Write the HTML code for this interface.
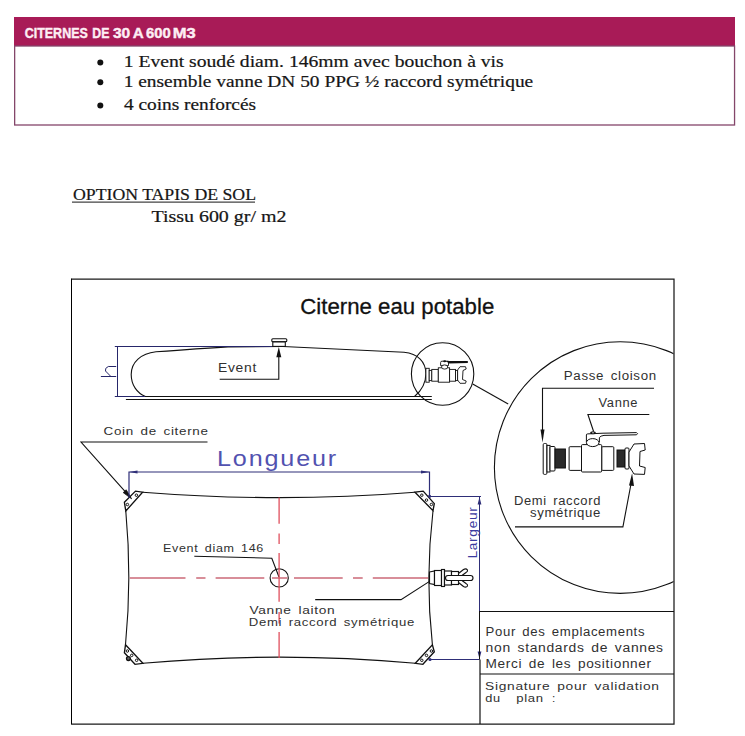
<!DOCTYPE html>
<html><head><meta charset="utf-8">
<style>
html,body{margin:0;padding:0;background:#fff;width:745px;height:736px;overflow:hidden}
svg{position:absolute;left:0;top:0;display:block}
.cad{font-family:"Liberation Sans",sans-serif;fill:#303030;letter-spacing:0.6px;word-spacing:2px}
.ser{font-family:"Liberation Serif",serif;fill:#161616;stroke:#161616;stroke-width:0.2px}
</style></head><body>
<svg width="745" height="736" viewBox="0 0 745 736">
<!-- header box -->
<rect x="14" y="17" width="721" height="29" fill="#a81b57"/>
<rect x="14.65" y="46" width="719.9" height="79" fill="none" stroke="#84466a" stroke-width="1.3"/>
<text y="38" font-family="Liberation Sans" font-weight="bold" font-size="14.4" fill="#fdeef4" stroke="#fdeef4" stroke-width="0.4"><tspan x="24.7" textLength="63.1" lengthAdjust="spacingAndGlyphs">CITERNES</tspan><tspan x="92.3" textLength="17.1" lengthAdjust="spacingAndGlyphs">DE</tspan><tspan x="112.9" textLength="17.3" lengthAdjust="spacingAndGlyphs">30</tspan><tspan x="132.7" textLength="11.0" lengthAdjust="spacingAndGlyphs">A</tspan><tspan x="145.9" textLength="24.8" lengthAdjust="spacingAndGlyphs">600</tspan><tspan x="172.8" textLength="23.0" lengthAdjust="spacingAndGlyphs">M3</tspan></text>
<!-- bullets -->
<circle cx="100.3" cy="62.4" r="3" fill="#111"/>
<circle cx="100.3" cy="82.2" r="3" fill="#111"/>
<circle cx="100.3" cy="105.5" r="3" fill="#111"/>
<text class="ser" x="123.7" y="66.8" font-size="16" textLength="380.0" lengthAdjust="spacingAndGlyphs">1 Event soudé diam. 146mm avec bouchon à vis</text>
<text class="ser" x="123.7" y="86.6" font-size="16" textLength="409.5" lengthAdjust="spacingAndGlyphs">1 ensemble vanne DN 50 PPG ½ raccord symétrique</text>
<text class="ser" x="124.0" y="109.5" font-size="16" textLength="132.0" lengthAdjust="spacingAndGlyphs">4 coins renforcés</text>
<!-- option -->
<text class="ser" x="73.0" y="199.9" font-size="16" textLength="183.0" lengthAdjust="spacingAndGlyphs">OPTION TAPIS DE SOL</text>
<rect x="72" y="201.6" width="183" height="1" fill="#161616"/>
<text class="ser" x="151.4" y="221.6" font-size="16" textLength="135.1" lengthAdjust="spacingAndGlyphs">Tissu 600 gr/ m2</text>

<!-- drawing frame -->
<path d="M71.5,279 H674 V724 H71.5" fill="none" stroke="#1a1a1a" stroke-width="1.25"/><line x1="71.5" y1="278.5" x2="71.5" y2="724.5" stroke="#000" stroke-width="1"/>
<text x="300.3" y="313.9" font-family="Liberation Sans" font-size="22.5" fill="#111" stroke="#111" stroke-width="0.3" textLength="194.0" lengthAdjust="spacingAndGlyphs">Citerne eau potable</text>

<!-- side view -->
<g fill="none" stroke="#111" stroke-width="1.1">
  <path d="M283,346.5 L404,352.2 C418,353.5 425.9,362 425.9,373.7 C425.9,384 421,391 414.5,396.5"/>
  <path d="M283,346.5 L228,346.9 Q200,348.6 156,351.8 C141,353.5 131.2,362 131.2,374.5 C131.2,385 137,393 145.4,396.5"/>
  <line x1="145" y1="396.5" x2="431.8" y2="396.5"/>
  <line x1="125.9" y1="399.5" x2="431.8" y2="399.5"/>
  <circle cx="442.6" cy="374" r="31.2"/>
  <line x1="472.7" y1="383.9" x2="508.2" y2="404.1"/>
  <!-- event cap -->
  <rect x="271.8" y="338.8" width="15" height="3" rx="1"/>
  <rect x="272.8" y="341.8" width="12.5" height="4.6"/>
  <polyline points="219.7,379.3 278.8,379.3 278.8,352"/>
</g>
<path d="M278.8,347 L276.3,357.2 L281.3,357.2 Z" fill="#111"/>
<text class="cad" x="218.0" y="372.3" font-size="12" textLength="39.0" lengthAdjust="spacingAndGlyphs">Event</text>
<!-- blue h dim -->
<g fill="none" stroke="#26266a" stroke-width="1">
  <line x1="114.8" y1="346.5" x2="272" y2="346.5"/>
  <line x1="114.8" y1="396.5" x2="145" y2="396.5"/>
  <line x1="117.5" y1="346.5" x2="117.5" y2="396"/>
  <path d="M100.9,376.5 H116.2 M116.2,366.5 H108.3 Q104.6,368 105.5,371 L110.9,376.5"/>
</g>

<!-- small valve in small circle -->
<g fill="#fff" stroke="#111" stroke-width="0.9">
  <rect x="425.9" y="368.3" width="3.3" height="13.9"/>
  <rect x="429.2" y="370.4" width="2.6" height="10.2"/>
  <rect x="431.8" y="369.4" width="6.5" height="11.8"/>
  <rect x="438.3" y="367.8" width="11.3" height="14.4"/>
  <rect x="449.6" y="369.4" width="5.9" height="11.8"/>
  <rect x="455.5" y="370.4" width="2.1" height="10.2"/>
  <path d="M457.6,370 L460,366.7 L465.5,366.7 L466.2,369 L463,370.5 L462.5,379.5 L466.2,381 L465.5,383.3 L460,383.3 L457.6,380 Z"/>
  <path d="M440.6,365.6 V362.5 Q440.6,361.2 442,361.2 L448.5,361.2 V365.6 Z"/>
  <ellipse cx="444.6" cy="367" rx="3.1" ry="2.1"/>
</g>
<path d="M446,361 L467.8,360.9 L467.8,362.9 L448.9,363.4 Z" fill="#111"/>
<ellipse cx="444.7" cy="361.3" rx="1.5" ry="1" fill="#111"/>

<!-- big circle detail -->
<defs><clipPath id="cf"><rect x="71" y="279" width="602.5" height="444"/></clipPath></defs>
<circle cx="620.2" cy="467.6" r="125.8" fill="none" stroke="#111" stroke-width="1.1" clip-path="url(#cf)"/>
<text class="cad" x="563.8" y="380.3" font-size="12" textLength="93.0" lengthAdjust="spacingAndGlyphs">Passe cloison</text>
<text class="cad" x="598.6" y="407" font-size="12" textLength="39.5" lengthAdjust="spacingAndGlyphs">Vanne</text>
<text class="cad" x="514.0" y="504.8" font-size="12" textLength="87.0" lengthAdjust="spacingAndGlyphs">Demi raccord</text>
<text class="cad" x="530.0" y="516.8" font-size="12" textLength="71.0" lengthAdjust="spacingAndGlyphs">symétrique</text>
<g fill="none" stroke="#111" stroke-width="1.1">
  <polyline points="654,388.2 542.5,388.2 542.5,432"/>
  <polyline points="649.3,414.5 587.9,414.5 593.6,431.5"/>
  <polyline points="515,526.9 622.9,526.9 631,484"/>
</g>
<path d="M542.5,442.5 L540.5,429.5 L544.5,429.5 Z" fill="#111"/>
<path d="M632.1,473.2 L629,485.5 L634,486 Z" fill="#111"/>
<g fill="#fff" stroke="#111" stroke-width="1">
  <rect x="543.2" y="443.5" width="3.7" height="30.9" rx="1.2"/>
  <rect x="547" y="445.4" width="3" height="26.6"/>
  <rect x="550" y="446.5" width="5" height="24.5" rx="1"/>
  <rect x="555" y="449" width="10.4" height="19" fill="#2a2a2a"/>
  <rect x="569.1" y="446.7" width="12.4" height="23.7" rx="1"/>
  <rect x="601.7" y="446.7" width="12.1" height="23.7" rx="1"/>
  <rect x="581.5" y="444.6" width="20.2" height="27.4" rx="1"/>
  <rect x="617" y="450" width="8" height="17" fill="#2a2a2a"/>
  <rect x="625" y="448" width="4" height="21" rx="1"/>
  <path d="M629,452 L634,444 L644.5,443.5 L645.2,450 L640,451.5 L639.5,466 L645.2,467.5 L644.5,474.4 L634,474 L629,466 Z"/>
  <path d="M586.4,442 V435 Q586.4,433.9 587.6,433.9 L603,433.2 L636.5,432.6 Q638.6,433.6 636.5,434.8 L604,435.4 Q600.5,435.8 599.4,437.5 V442 Z"/>
  <ellipse cx="592.7" cy="442.6" rx="6.3" ry="4"/>
</g>
<ellipse cx="593" cy="432.7" rx="2.9" ry="1.5" fill="#111"/>
<ellipse cx="593" cy="432.7" rx="1.2" ry="0.5" fill="#ddd"/>

<!-- plan view -->
<g fill="none" stroke="#111" stroke-width="1.1">
  <path d="M142.6,492.2 Q280,503 415,492.2"/>
  <path d="M142.9,663.3 Q280,651 415.3,663.3"/>
  <path d="M125.8,511 Q132,578 125.5,644.8"/>
  <path d="M433,510.7 Q425,578 432.4,644.8"/>
  <path d="M124.4,502.3 L135.5,491.1 L142.6,492.2 L125.8,511 Z" stroke-width="1.35"/>
  <path d="M415,492.2 L423.2,491.1 L434.3,503.6 L433,510.7 Z" stroke-width="1.35"/>
  <path d="M125.5,644.8 L142.9,663.3 L135,664.3 L124.4,652.7 Z" stroke-width="1.35"/>
  <path d="M415.3,663.3 L432.4,644.8 L434.3,651.8 L422.9,664.3 Z" stroke-width="1.35"/>
  <circle cx="279.2" cy="577.9" r="9.1"/>
  <polyline points="194.3,556.2 271.8,558.2 279,577"/>
  <polyline points="315.2,599.6 401,599.6 433.8,578.6"/>
  <polyline points="207.5,442 81,442 125,491.4"/>
</g>
<path d="M131.6,498.8 L123.2,492.6 L126.2,489.8 Z" fill="#111" stroke="#111" stroke-width="0.8"/>
<g fill="none" stroke="#111" stroke-width="1">
  <circle cx="136.4" cy="495.2" r="1.25"/><circle cx="127.4" cy="504.5" r="1.25"/>
  <circle cx="421.8" cy="495.2" r="1.25"/><circle cx="426.5" cy="500.1" r="1.25"/><circle cx="431.4" cy="504.5" r="1.25"/>
  <circle cx="127.4" cy="651" r="1.25"/><circle cx="131.7" cy="655.4" r="1.25"/><circle cx="136.6" cy="660.3" r="1.25"/>
  <circle cx="421.8" cy="660.3" r="1.25"/><circle cx="426.5" cy="655.4" r="1.25"/><circle cx="431.4" cy="651" r="1.25"/>
</g>
<circle cx="128.4" cy="658.6" r="1.9" fill="#666" stroke="#111" stroke-width="1.3"/>
<circle cx="429.6" cy="496.3" r="1.6" fill="#2e2e78"/>
<circle cx="430" cy="659.5" r="1.6" fill="#2e2e78"/>
<!-- red centre lines -->
<g stroke="#d8606e" stroke-width="1.4" fill="none">
  <path stroke="#cc6a78" d="M129.7,578 H185.5 M196.2,578 H205.5 M215.6,578 H264.3 M272,578 H287.5 M294,578 H342.7 M353,578 H362.7 M372.8,578 H428.2"/>
  <path stroke="#e0505e" stroke-width="1.3" d="M279.1,497.6 V523.8 M279.1,533.6 V544 M279.1,553 V601.7 M279.1,612 V623.5 M279.1,632 V658"/>
</g>
<text class="cad" x="163.0" y="552.1" font-size="11.2" textLength="101.0" lengthAdjust="spacingAndGlyphs">Event diam 146</text>
<text class="cad" x="249.4" y="613.6" font-size="11.8" textLength="86.0" lengthAdjust="spacingAndGlyphs">Vanne laiton</text>
<text class="cad" x="248.8" y="626.2" font-size="11.8" textLength="166.1" lengthAdjust="spacingAndGlyphs">Demi raccord symétrique</text>
<text class="cad" x="103.6" y="434.7" font-size="11.8" textLength="105.0" lengthAdjust="spacingAndGlyphs">Coin de citerne</text>
<!-- right valve plan -->
<g fill="#fff" stroke="#111" stroke-width="1.15">
  <path d="M429.5,572 L434.5,571 L434.5,584.5 L429.5,583.5 Z"/>
  <rect x="434.5" y="570.5" width="7" height="15"/>
  <rect x="441.5" y="569.5" width="3" height="17"/>
  <rect x="444.5" y="571" width="7" height="14"/>
  <rect x="451.5" y="571.5" width="7" height="13"/>
  <path d="M458.5,573.5 L463.5,569.5 Q466,568 467.5,570 Q468,571.5 466,572.5 L462,575.5 M462,580.5 L466,583.5 Q468,584.5 467.5,586 Q466,588 463.5,586.5 L458.5,582.5"/>
  <rect x="445.5" y="575.5" width="27.5" height="5" rx="2.5"/>
</g>
<!-- blue dimensions plan -->
<g fill="none" stroke="#2e2e78" stroke-width="1">
  <polyline points="129,497.7 129,472 429.5,472 429.5,495.8" stroke-width="1.2"/>
  <polyline points="429.5,496.5 481,496.5"/>
  <line x1="479.5" y1="496.5" x2="479.5" y2="611.5"/>
  <line x1="429.5" y1="659.5" x2="479.5" y2="659.5"/>
</g>
<path d="M129,472 L137.5,470.4 L137.5,473.6 Z M429.5,472 L421,470.4 L421,473.6 Z M479.5,497 L477.6,504.5 L481.4,504.5 Z M479.5,659 L477.6,651.5 L481.4,651.5 Z" fill="#2e2e78"/>
<text x="217.0" y="466.2" font-family="Liberation Sans" font-size="22" fill="#5252b0" letter-spacing="1.6" textLength="121.0" lengthAdjust="spacingAndGlyphs">Longueur</text>
<text transform="translate(477.3,558.5) rotate(-90)" x="0" y="0" font-family="Liberation Sans" font-size="12.5" fill="#3a3aa0" letter-spacing="0.6" textLength="52" lengthAdjust="spacingAndGlyphs">Largeur</text>

<!-- table -->
<g fill="none" stroke="#111" stroke-width="1">
  <line x1="479.5" y1="611.5" x2="674" y2="611.5"/>
  <line x1="479.5" y1="611" x2="479.5" y2="659.5"/>
  <line x1="480" y1="659.5" x2="480" y2="724" stroke-width="1.2"/>
  <line x1="480" y1="674" x2="674" y2="674" stroke-width="1.2"/>
</g>
<text class="cad" x="485.6" y="636.1" font-size="12.5" textLength="159.5" lengthAdjust="spacingAndGlyphs">Pour des emplacements</text>
<text class="cad" x="485.6" y="652.1" font-size="12.5" textLength="178.1" lengthAdjust="spacingAndGlyphs">non standards de vannes</text>
<text class="cad" x="485.6" y="668.2" font-size="12.5" textLength="166.2" lengthAdjust="spacingAndGlyphs">Merci de les positionner</text>
<text class="cad" x="485.1" y="689.6" font-size="11.8" textLength="174.6" lengthAdjust="spacingAndGlyphs">Signature pour validation</text>
<text class="cad" y="701.8" font-size="11.8"><tspan x="485.2" textLength="15.5" lengthAdjust="spacingAndGlyphs">du</tspan><tspan x="516.2" textLength="27.5" lengthAdjust="spacingAndGlyphs">plan</tspan><tspan x="552">:</tspan></text>
</svg>
</body></html>
